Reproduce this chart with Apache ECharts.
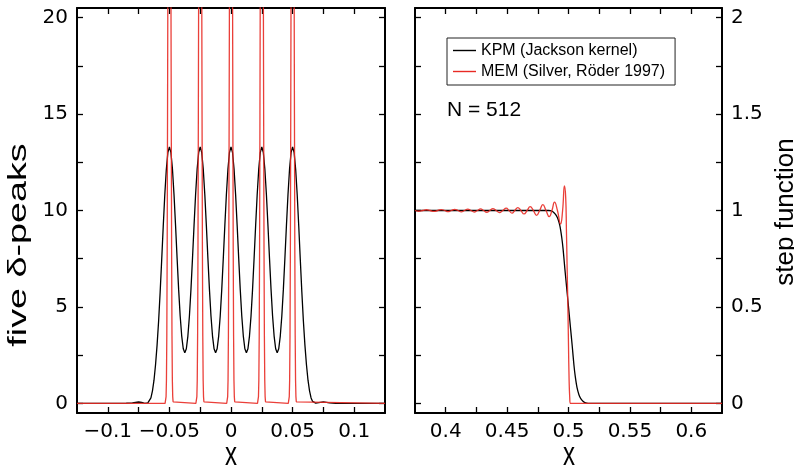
<!DOCTYPE html>
<html>
<head>
<meta charset="utf-8">
<script src="https://cdn.jsdelivr.net/npm/echarts@6/dist/echarts.min.js"></script>
<style>
html,body{margin:0;padding:0;background:#fff;}
#chart{width:794px;height:468px;}
</style>
</head>
<body>
<div id="chart"></div>
<script>
// ---------- data ----------
const seriesNames = ['KPM (Jackson kernel)', 'MEM (Silver, Röder 1997)'];

// left panel: five delta peaks, KPM (Jackson kernel)
const kpmPeaks = [
[-0.125,0],[-0.1,0],[-0.09,0],[-0.085,0.005],[-0.08,0.02],[-0.0775,0.05],[-0.075,0.07],[-0.0725,0.05],[-0.07,0.0],
[-0.06875,0.01],[-0.0675,0.03],[-0.06625,0.1],[-0.065,0.28],[-0.06375,0.65],[-0.0625,1.2],[-0.06125,2.0],[-0.06,3.02],[-0.05875,4.27],[-0.0575,5.77],[-0.05625,7.45],[-0.055,9.18],[-0.05375,10.8],[-0.0525,12.12],[-0.05125,13.0],[-0.05,13.3],
[-0.04875,13.0],[-0.0475,12.13],[-0.04625,10.82],[-0.045,9.22],[-0.04375,7.52],[-0.0425,5.91],[-0.04125,4.53],[-0.04,3.49],[-0.03875,2.83],[-0.0375,2.62],[-0.03625,2.83],[-0.035,3.49],[-0.03375,4.53],[-0.0325,5.91],[-0.03125,7.52],[-0.03,9.22],[-0.02875,10.82],[-0.0275,12.13],[-0.02625,13.0],[-0.025,13.3],
[-0.02375,13.0],[-0.0225,12.13],[-0.02125,10.82],[-0.02,9.22],[-0.01875,7.52],[-0.0175,5.91],[-0.01625,4.53],[-0.015,3.49],[-0.01375,2.83],[-0.0125,2.62],[-0.01125,2.83],[-0.01,3.49],[-0.00875,4.53],[-0.0075,5.91],[-0.00625,7.52],[-0.005,9.22],[-0.00375,10.82],[-0.0025,12.13],[-0.00125,13.0],[0,13.3],
[0.00125,13.0],[0.0025,12.13],[0.00375,10.82],[0.005,9.22],[0.00625,7.52],[0.0075,5.91],[0.00875,4.53],[0.01,3.49],[0.01125,2.83],[0.0125,2.62],[0.01375,2.83],[0.015,3.49],[0.01625,4.53],[0.0175,5.91],[0.01875,7.52],[0.02,9.22],[0.02125,10.82],[0.0225,12.13],[0.02375,13.0],[0.025,13.3],
[0.02625,13.0],[0.0275,12.13],[0.02875,10.82],[0.03,9.22],[0.03125,7.52],[0.0325,5.91],[0.03375,4.53],[0.035,3.49],[0.03625,2.83],[0.0375,2.62],[0.03875,2.83],[0.04,3.49],[0.04125,4.53],[0.0425,5.91],[0.04375,7.52],[0.045,9.22],[0.04625,10.82],[0.0475,12.13],[0.04875,13.0],[0.05,13.3],
[0.05125,13.0],[0.0525,12.12],[0.05375,10.8],[0.055,9.18],[0.05625,7.45],[0.0575,5.77],[0.05875,4.27],[0.06,3.02],[0.06125,2.0],[0.0625,1.2],[0.06375,0.65],[0.065,0.28],[0.06625,0.1],[0.0675,0.03],[0.06875,0.01],[0.07,0.0],
[0.0725,0.05],[0.075,0.07],[0.0775,0.05],[0.08,0.02],[0.085,0.005],[0.09,0],[0.1,0],[0.125,0]
];

// left panel: MEM (very sharp peaks, clipped at the top of the frame)
const memPeaks = [
[-0.125,0],
[-0.0535,0],[-0.053,0.08],[-0.0527,0.35],[-0.0524,1.2],[-0.0521,3.5],[-0.0518,8],[-0.0515,15],[-0.0512,23],[-0.0509,33],[-0.0506,42],[-0.0503,48],[-0.05,50],
[-0.0497,48],[-0.0494,42],[-0.0491,33],[-0.0488,23],[-0.0485,15],[-0.0482,8],[-0.0479,3.5],[-0.0476,1.2],[-0.0473,0.35],[-0.047,0.08],[-0.0465,0],
[-0.0285,0],[-0.028,0.08],[-0.0277,0.35],[-0.0274,1.2],[-0.0271,3.5],[-0.0268,8],[-0.0265,15],[-0.0262,23],[-0.0259,33],[-0.0256,42],[-0.0253,48],[-0.025,50],
[-0.0247,48],[-0.0244,42],[-0.0241,33],[-0.0238,23],[-0.0235,15],[-0.0232,8],[-0.0229,3.5],[-0.0226,1.2],[-0.0223,0.35],[-0.022,0.08],[-0.0215,0],
[-0.0035,0],[-0.003,0.08],[-0.0027,0.35],[-0.0024,1.2],[-0.0021,3.5],[-0.0018,8],[-0.0015,15],[-0.0012,23],[-0.0009,33],[-0.0006,42],[-0.0003,48],[0,50],
[0.0003,48],[0.0006,42],[0.0009,33],[0.0012,23],[0.0015,15],[0.0018,8],[0.0021,3.5],[0.0024,1.2],[0.0027,0.35],[0.003,0.08],[0.0035,0],
[0.0215,0],[0.022,0.08],[0.0223,0.35],[0.0226,1.2],[0.0229,3.5],[0.0232,8],[0.0235,15],[0.0238,23],[0.0241,33],[0.0244,42],[0.0247,48],[0.025,50],
[0.0253,48],[0.0256,42],[0.0259,33],[0.0262,23],[0.0265,15],[0.0268,8],[0.0271,3.5],[0.0274,1.2],[0.0277,0.35],[0.028,0.08],[0.0285,0],
[0.0465,0],[0.047,0.08],[0.0473,0.35],[0.0476,1.2],[0.0479,3.5],[0.0482,8],[0.0485,15],[0.0488,23],[0.0491,33],[0.0494,42],[0.0497,48],[0.05,50],
[0.0503,48],[0.0506,42],[0.0509,33],[0.0512,23],[0.0515,15],[0.0518,8],[0.0521,3.5],[0.0524,1.2],[0.0527,0.35],[0.053,0.08],[0.0535,0],
[0.125,0]
];

// right panel: step function
const kpmStep = [
[0.375,1],[0.484,1],[0.486,0.998],[0.488,0.99],[0.49,0.975],[0.4915,0.955],[0.493,0.92],[0.4945,0.86],[0.4956,0.8],[0.497,0.7],[0.4985,0.6],[0.5,0.5],
[0.5015,0.4],[0.503,0.3],[0.5044,0.2],[0.5055,0.14],[0.507,0.08],[0.5085,0.045],[0.51,0.025],[0.512,0.01],[0.514,0.002],[0.516,0],[0.625,0]
];
const memStep = [
[0.375,1.0],[0.378,0.996],[0.3812,1.0],[0.3843,1.004],[0.3873,1.0],[0.3904,0.995],[0.3935,1.0],[0.3965,1.005],[0.3992,1.0],[0.4019,0.994],
[0.4046,1.0],[0.4073,1.006],[0.41,1.0],[0.4127,0.993],[0.4153,1.0],[0.418,1.007],[0.4206,1.0],[0.4232,0.992],[0.4258,1.0],[0.4284,1.008],
[0.4309,1.0],[0.4334,0.991],[0.4359,1.0],[0.4384,1.01],[0.4411,1.0],[0.4438,0.989],[0.4465,1.0],[0.4493,1.012],[0.4516,1.0],[0.454,0.986],
[0.4563,1.0],[0.4587,1.015],[0.4612,1.0],[0.4638,0.982],[0.4663,1.0],[0.4688,1.02],[0.4714,1.0],[0.474,0.975],[0.4765,1.0],[0.4791,1.03],
[0.4817,1.0],[0.4843,0.968],[0.4865,1.0],[0.4886,1.043],[0.491,1.0],[0.4935,0.93],[0.4952,1.0],[0.4967,1.127],[0.4977,1.07],[0.4983,0.9],
[0.4989,0.7],[0.4995,0.5],[0.5,0.3],[0.5005,0.12],[0.501,0.03],[0.5015,0.0],[0.625,0.0]
];

// axis ranges and ticks
const leftXRange = [-0.125, 0.125];
const leftYRange = [-0.5, 20.5];
const rightXRange = [0.375, 0.625];
const rightYRange = [-0.05, 2.05];
const leftXTicks = [-0.1,-0.075,-0.05,-0.025,0,0.025,0.05,0.075,0.1];
const leftXLabels = [-0.1,-0.05,0,0.05,0.1];
const leftYTicks = [0,2.5,5,7.5,10,12.5,15,17.5,20];
const leftYLabels = [0,5,10,15,20];
const rightXTicks = [0.4,0.425,0.45,0.475,0.5,0.525,0.55,0.575,0.6];
const rightXLabels = [0.4,0.45,0.5,0.55,0.6];
const rightYTicks = [0,0.25,0.5,0.75,1,1.25,1.5,1.75,2];
const rightYLabels = [0,0.5,1,1.5,2];

const leftYTitle = 'five δ-peaks';
const rightYTitle = 'step function';
const xTitle = 'x';
const annotation = 'N = 512';

// ---------- chart ----------
const FONT = '"Liberation Sans", Arial, Helvetica, sans-serif';
const WIDE = '"DejaVu Sans", "Liberation Sans", sans-serif';
const BLACK = '#000000';
const RED = '#e82a24';
const fmt = v => String(+(+v).toFixed(4)).replace('-', '\u2212');

function axis(kind, grid, pos, range, ticks, labels) {
  return {
    type: 'value', gridIndex: grid, position: pos, min: range[0], max: range[1],
    axisLine: { show: true, onZero: false, lineStyle: { color: BLACK, width: 2 } },
    axisTick: { show: true, inside: true, length: 6, customValues: ticks, lineStyle: { color: BLACK, width: 1.3 } },
    splitLine: { show: false },
    axisLabel: labels ? {
      show: true, customValues: labels, formatter: fmt, color: BLACK, fontSize: 20, fontFamily: WIDE,
      margin: 9
    } : { show: false }
  };
}

const chart = echarts.init(document.getElementById('chart'), null, { renderer: 'canvas' });
const option = {
  animation: false,
  backgroundColor: '#ffffff',
  grid: [
    { left: 77, top: 8, width: 308, height: 405, containLabel: false },
    { left: 415, top: 8, width: 307, height: 405, containLabel: false }
  ],
  xAxis: [
    axis('x', 0, 'bottom', leftXRange, leftXTicks, leftXLabels),
    axis('x', 0, 'top', leftXRange, leftXTicks, null),
    axis('x', 1, 'bottom', rightXRange, rightXTicks, rightXLabels),
    axis('x', 1, 'top', rightXRange, rightXTicks, null)
  ],
  yAxis: [
    axis('y', 0, 'left', leftYRange, leftYTicks, leftYLabels),
    axis('y', 0, 'right', leftYRange, leftYTicks, null),
    axis('y', 1, 'left', rightYRange, rightYTicks, null),
    axis('y', 1, 'right', rightYRange, rightYTicks, rightYLabels)
  ],
  legend: {
    data: seriesNames,
    orient: 'vertical',
    left: 447, top: 38,
    padding: [4, 10, 5, 6],
    itemGap: 4,
    icon: 'rect',
    itemWidth: 23, itemHeight: 1.4,
    borderColor: '#222', borderWidth: 1,
    textStyle: { color: BLACK, fontSize: 16, fontFamily: FONT, lineHeight: 17 },
    selectedMode: false
  },
  series: [
    { name: seriesNames[0], type: 'line', xAxisIndex: 0, yAxisIndex: 0, data: kpmPeaks, symbol: 'none',
      lineStyle: { color: BLACK, width: 1.3 }, itemStyle: { color: BLACK }, z: 2 },
    { name: seriesNames[1], type: 'line', xAxisIndex: 0, yAxisIndex: 0, data: memPeaks, symbol: 'none',
      lineStyle: { color: RED, width: 1.3, opacity: 0.9 }, itemStyle: { color: RED }, z: 3 },
    { name: seriesNames[0], type: 'line', xAxisIndex: 2, yAxisIndex: 2, data: kpmStep, symbol: 'none', smooth: 0.3,
      lineStyle: { color: BLACK, width: 1.3 }, itemStyle: { color: BLACK }, z: 2 },
    { name: seriesNames[1], type: 'line', xAxisIndex: 2, yAxisIndex: 2, data: memStep, symbol: 'none', smooth: 0.5,
      lineStyle: { color: RED, width: 1.3, opacity: 0.9 }, itemStyle: { color: RED }, z: 3 }
  ],
  graphic: [
    { type: 'text', x: 19, y: 245, rotation: Math.PI / 2, scaleX: 1.45,
      style: { text: leftYTitle, fill: BLACK, font: '26px ' + FONT, textAlign: 'center', textVerticalAlign: 'middle' } },
    { type: 'text', x: 786, y: 212, rotation: Math.PI / 2,
      style: { text: rightYTitle, fill: BLACK, font: '26px ' + FONT, textAlign: 'center', textVerticalAlign: 'middle' } },
    { type: 'text', x: 231, y: 456, scaleY: 1.35,
      style: { text: xTitle, fill: BLACK, font: '24px ' + FONT, textAlign: 'center', textVerticalAlign: 'middle' } },
    { type: 'text', x: 569, y: 456, scaleY: 1.35,
      style: { text: xTitle, fill: BLACK, font: '24px ' + FONT, textAlign: 'center', textVerticalAlign: 'middle' } },
    { type: 'text', x: 447, y: 110,
      style: { text: annotation, fill: BLACK, font: '21px ' + FONT, textAlign: 'left', textVerticalAlign: 'middle' } }
  ]
};
chart.setOption(option);
</script>
</body>
</html>
